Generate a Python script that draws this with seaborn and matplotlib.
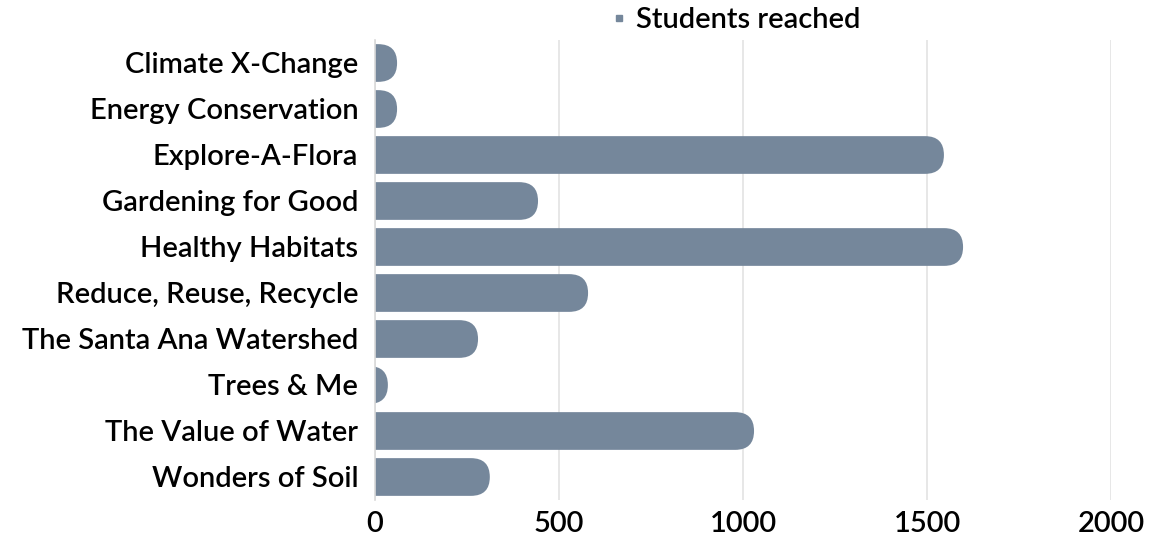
import pandas as pd
import matplotlib.pyplot as plt
import seaborn as sns
from matplotlib.patches import FancyBboxPatch
from matplotlib.lines import Line2D

programs = ['Climate X-Change', 'Energy Conservation', 'Explore-A-Flora', 'Gardening for Good',
            'Healthy Habitats', 'Reduce, Reuse, Recycle', 'The Santa Ana Watershed', 'Trees & Me',
            'The Value of Water', 'Wonders of Soil']
students = [60, 60, 1546, 443, 1598, 579, 280, 35, 1030, 312]
ticks = [0, 500, 1000, 1500, 2000]

bar_color = '#75879b'
sns.set_style('white')
plt.rcParams['font.family'] = ['Lato', 'DejaVu Sans']
plt.rcParams['text.color'] = 'black'

data = pd.DataFrame({'program': programs, 'students': students})

fig = plt.figure(figsize=(11.66, 5.39), dpi=100)
ax = fig.add_axes([375 / 1166, 1 - 500 / 539, (1111 - 375) / 1166, (500 - 40) / 539])
sns.barplot(data=data, y='program', x='students', color=bar_color, width=0.82, ax=ax, saturation=1)

ax.set_xlim(0, 2000)
ax.set_ylim(len(programs) - 0.5, -0.5)

# swap the plain bars for bars with a rounded right end
px_x = ax.get_window_extent().width / 2000
px_y = ax.get_window_extent().height / len(programs)
for p in list(ax.patches):
    x0, y0, w, h = p.get_x(), p.get_y(), p.get_width(), p.get_height()
    r_y = h / 2
    r_x = r_y * px_y / px_x
    p.remove()
    fb = FancyBboxPatch((x0 - r_x, y0), w + r_x, h,
                        boxstyle=f'round,pad=0,rounding_size={r_x}',
                        mutation_aspect=r_y / r_x, facecolor=bar_color, edgecolor='none',
                        zorder=2)
    ax.add_patch(fb)

ax.set_xticks(ticks)
ax.set_xticklabels([str(t) for t in ticks])
ax.xaxis.grid(True, color='#e3e3e3', linewidth=1.2, zorder=0)
ax.set_axisbelow(True)
for s in ['top', 'right', 'bottom']:
    ax.spines[s].set_visible(False)
ax.spines['left'].set_color('#d9d9d9')
ax.spines['left'].set_linewidth(1.2)
ax.tick_params(axis='both', length=0, labelsize=21, labelcolor='black')
ax.tick_params(axis='y', pad=12)
ax.tick_params(axis='x', pad=8)
ax.set_xlabel('')
ax.set_ylabel('')
for lab in ax.get_yticklabels() + ax.get_xticklabels():
    lab.set_fontweight('semibold')

handle = Line2D([], [], marker='s', linestyle='none', color=bar_color, markersize=5)
fig.legend([handle], ['Students reached'], loc='center left', bbox_to_anchor=(578 / 1166, 1 - 20 / 539),
           frameon=False, handletextpad=0.1, handlelength=1, labelcolor='black',
           prop={'weight': 'semibold', 'size': 21})

fig.savefig('out.png', dpi=100)
